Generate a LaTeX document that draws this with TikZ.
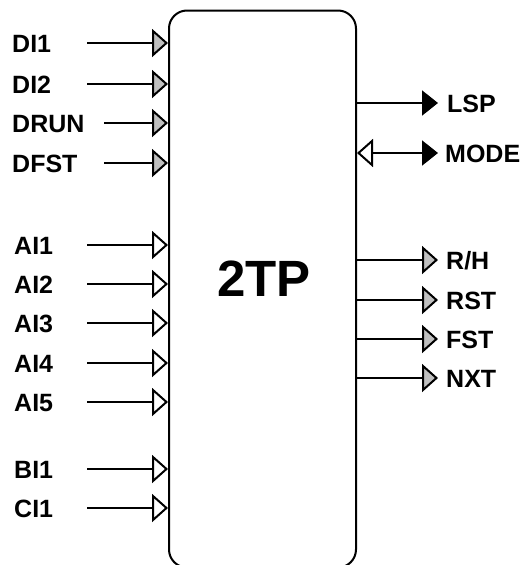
\documentclass[tikz,border=0pt]{standalone}
\usepackage{fontspec}
\setmainfont{Liberation Sans}
\usetikzlibrary{arrows.meta}
\begin{document}
\begin{tikzpicture}[x=1pt,y=-1pt,
  lbl/.style={font=\fontsize{25}{28}\selectfont\bfseries, inner sep=0pt},
  wire/.style={line width=2pt},
  grayin/.style={wire, -{Triangle[length=16pt,width=28pt,fill=black!25]}},
  openin/.style={wire, -{Triangle[open,length=16pt,width=28pt,fill=white]}},
  blackout/.style={wire, -{Triangle[length=16pt,width=25pt]}},
  bidir/.style={wire, {Triangle[open,length=16pt,width=28pt,fill=white]}-{Triangle[length=16pt,width=25pt]}}
]
\useasboundingbox (0,0) rectangle (527,565);
\begin{scope}
\clip (0,0) rectangle (527,565);
\node[draw, line width=2pt, rounded corners=18pt, minimum width=187pt, minimum height=557pt, inner sep=0pt] (tp) at (262.5,289) {};
\end{scope}
\node[font=\fontsize{51}{55}\selectfont\bfseries, inner sep=0pt, anchor=base] (title) at (264,296) {2TP};

% left inputs (gray)
\foreach \n/\t/\y/\sx in {di1/DI1/43/87, di2/DI2/84/87, drun/DRUN/123/104, dfst/DFST/163/104}{
  \node[lbl, anchor=base west] (l\n) at (12,\y+9.5) {\t};
  \coordinate (s\n) at (\sx,\y);
  \draw[grayin] (s\n) -- (s\n -| tp.west);
}
% left inputs (open)
\foreach \n/\t/\y in {ai1/AI1/245, ai2/AI2/284, ai3/AI3/323, ai4/AI4/363, ai5/AI5/402, bi1/BI1/469, ci1/CI1/508}{
  \node[lbl, anchor=base west] (l\n) at (14,\y+9) {\t};
  \coordinate (s\n) at (87,\y);
  \draw[openin] (s\n) -- (s\n -| tp.west);
}
% right outputs
\node[lbl, anchor=base west] (llsp) at (447,103+9) {LSP};
\coordinate (elsp) at (438,103);
\draw[blackout] (elsp -| tp.east) -- (elsp);
\node[lbl, anchor=base west] (lmode) at (445,153+9) {MODE};
\coordinate (emode) at (438,153);
\draw[bidir] (emode -| tp.east) -- (emode);
\foreach \n/\t/\y in {rh/R\slash H/260, rst/RST/300, fst/FST/339, nxt/NXT/378}{
  \node[lbl, anchor=base west] (l\n) at (446,\y+9) {\t};
  \coordinate (e\n) at (438,\y);
  \draw[grayin] (e\n -| tp.east) -- (e\n);
}
\end{tikzpicture}
\end{document}
